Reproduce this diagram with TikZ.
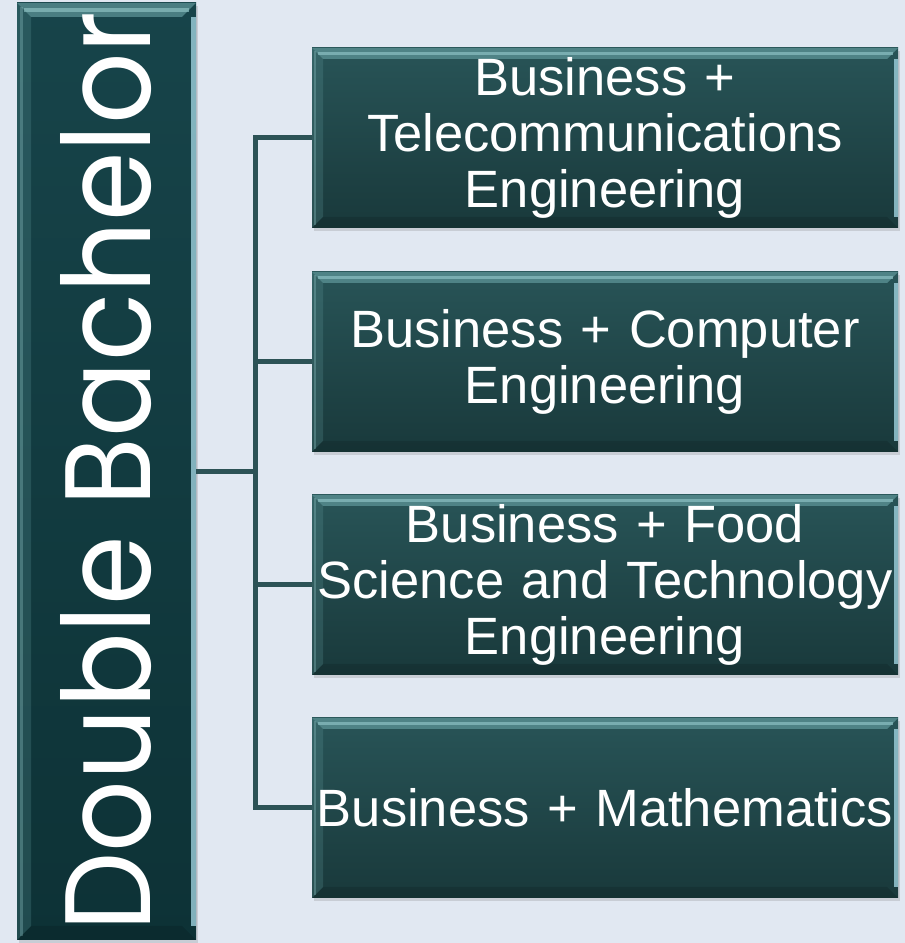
\documentclass[tikz,border=0pt]{standalone}
\usepackage{fontspec}
\setmainfont{Liberation Sans}
\newfontfamily\gothic{Poppins}
\usetikzlibrary{positioning, shadows}
\definecolor{pageblue}{RGB}{225,232,242}
\definecolor{barTop}{RGB}{23,68,74}
\definecolor{barBottom}{RGB}{13,50,54}
\definecolor{boxTop}{RGB}{40,84,87}
\definecolor{boxBottom}{RGB}{25,57,59}
\definecolor{linkColour}{RGB}{44,82,86}
\definecolor{bevelLight}{RGB}{96,152,155}
\definecolor{bevelShine}{RGB}{140,192,194}
\definecolor{rimLight}{RGB}{150,200,212}

\tikzset{
  % bevelled edge, #1 = depth of the bevel
  bevel/.style={path picture={
    \path (path picture bounding box.north west) coordinate (nw)
          (path picture bounding box.north east) coordinate (ne)
          (path picture bounding box.south west) coordinate (sw)
          (path picture bounding box.south east) coordinate (se);
    \fill[bevelLight, opacity=0.7] (nw) -- (ne) -- ([shift={(-#1,-#1)}]ne) -- ([shift={(#1,-#1)}]nw) -- cycle;
    \draw[bevelShine, opacity=0.7, line width=0.3*#1] ([shift={(0.5*#1,-0.5*#1)}]nw) -- ([shift={(-0.5*#1,-0.5*#1)}]ne);
    \fill[bevelLight, opacity=0.25] (nw) -- ([shift={(#1,-#1)}]nw) -- ([shift={(#1,#1)}]sw) -- (sw) -- cycle;
    \draw[bevelShine, opacity=0.35, line width=0.2*#1] ([shift={(0.3*#1,-0.3*#1)}]nw) -- ([shift={(0.3*#1,0.3*#1)}]sw);
    \fill[black, opacity=0.12] (sw) -- (se) -- ([shift={(-#1,#1)}]se) -- ([shift={(#1,#1)}]sw) -- cycle;
    \fill[rimLight, opacity=0.85] ([xshift=-0.35*#1, yshift=-#1]ne) rectangle ([yshift=#1]se);
  }},
  barbox/.style={top color=barTop, bottom color=barBottom, draw=none,
    bevel=14, drop shadow={shadow xshift=2pt, shadow yshift=-3pt, opacity=0.25},
    text=white, font=\gothic},
  progbox/.style={top color=boxTop, bottom color=boxBottom, draw=none,
    bevel=11, drop shadow={shadow xshift=2pt, shadow yshift=-3pt, opacity=0.25},
    minimum width=586, minimum height=180, inner sep=0pt, text width=580, align=center,
    text=white, font=\fontsize{52.5}{56}\selectfont},
  link/.style={draw=linkColour, line width=5pt, line join=miter},
}

\begin{document}
\begin{tikzpicture}[x=1pt, y=1pt]
  \fill[pageblue] (0,0) rectangle (905,943);
  \useasboundingbox (0,0) rectangle (905,943);

  % degree bar on the left
  \node[barbox, minimum width=179, minimum height=937, inner sep=0pt] (degree) at (106.5,471.5)
    {\rotatebox{90}{\resizebox{920pt}{90pt}{Double Bachelor}}\hspace{28pt}};

  % the four programmes
  \node[progbox] (prog1) at (605,805) {Business +\\Telecommunications\\Engineering};
  \node[progbox] (prog2) at (605,581) {Business + Computer\\Engineering};
  \node[progbox] (prog3) at (605,358) {Business + Food\\Science and Technology\\Engineering};
  \node[progbox] (prog4) at (605,135) {Business + Mathematics};

  % tree connectors
  \coordinate (spine) at (255,0);
  \draw[link] (degree.east) -- (degree.east -| spine);
  \draw[link] (prog1.west) -- (prog1.west -| spine) -- (prog4.west -| spine) -- (prog4.west);
  \foreach \i in {2,3}
    \draw[link] (prog\i.west) -- (prog\i.west -| spine);
\end{tikzpicture}
\end{document}
